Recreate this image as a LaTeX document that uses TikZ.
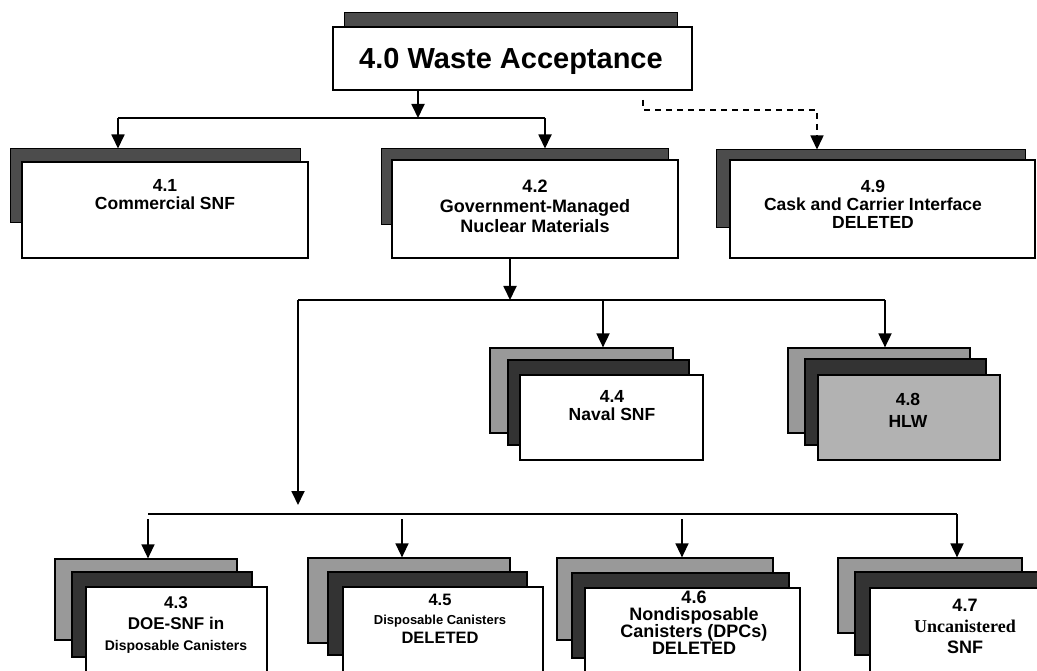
\documentclass[tikz,border=0pt]{standalone}
\usepackage{fontspec}
\setmainfont{Liberation Sans}
\newfontfamily\timesb{Liberation Serif}
\usetikzlibrary{arrows.meta}

\begin{document}
\begin{tikzpicture}[x=1pt,y=-1pt,
		shad/.style={draw,inner sep=0pt,line width=1pt,fill=black!70},
		back/.style={draw,inner sep=0pt,line width=1.2pt,fill=black!40},
		mid/.style={draw,inner sep=0pt,line width=1.2pt,fill=black!80},
		card/.style={draw,inner sep=0pt,line width=1.8pt,fill=white},
		lbl/.style={align=center,inner sep=0pt,font=\bfseries\fontsize{17.5}{18}\selectfont},
		conn/.style={line width=1.8pt},
		arr/.style={conn,-{Triangle[width=13pt,length=14pt]}}]
	\clip (0,0) rectangle (1037,671);
	\fill[white] (0,0) rectangle (1037,671);

	\node[shad,minimum width=333pt,minimum height=47pt] (s40) at (510.5,36.5) {};
	\node[card,line width=2.2pt,minimum width=359pt,minimum height=63pt] (b40) at (512.5,58.5) {};
	\node[lbl,font=\bfseries\fontsize{29}{32}\selectfont] (t40) at (511,61) {4.0 Waste Acceptance};

	\node[shad,minimum width=290pt,minimum height=74pt] (s41) at (155,186) {};
	\node[card,minimum width=286pt,minimum height=96pt] (b41) at (165,210) {};
	\node[lbl] (t41) at (165,195) {4.1\\Commercial SNF};

	\node[shad,minimum width=287pt,minimum height=76pt] (s42) at (524.5,187) {};
	\node[card,minimum width=286pt,minimum height=98pt] (b42) at (535,209) {};
	\node[lbl,font=\bfseries\fontsize{18}{20}\selectfont] (t42) at (535,206) {4.2\\Government-Managed\\Nuclear Materials};

	\node[shad,minimum width=309pt,minimum height=78pt] (s49) at (870.5,189) {};
	\node[card,minimum width=305pt,minimum height=98pt] (b49) at (882.5,209) {};
	\node[lbl] (t49) at (873,204) {4.9\\Cask and Carrier Interface\\DELETED};

	\node[back,minimum width=183pt,minimum height=85pt] (a44) at (581.5,390.5) {};
	\node[mid,minimum width=181pt,minimum height=85pt] (m44) at (598.5,402.5) {};
	\node[card,minimum width=183pt,minimum height=85pt] (b44) at (611.5,417.5) {};
	\node[lbl] (t44) at (612,406) {4.4\\Naval SNF};

	\node[back,minimum width=182pt,minimum height=85pt] (a48) at (879,390.5) {};
	\node[mid,minimum width=181pt,minimum height=86pt] (m48) at (895.5,402) {};
	\node[card,fill=black!30,minimum width=182pt,minimum height=85pt] (b48) at (909,417.5) {};
	\node[lbl] (t48) at (908,410) {4.8\\[4pt]HLW};

	\node[back,minimum width=182pt,minimum height=81pt] (a43) at (146,599.5) {};
	\node[mid,minimum width=180pt,minimum height=85pt] (m43) at (162,614.5) {};
	\node[card,minimum width=181pt,minimum height=100pt] (b43) at (176.5,637) {};
	\node[lbl,font=\bfseries\fontsize{17}{21}\selectfont] (t43) at (176,625) {4.3\\DOE-SNF in\\{\fontsize{14}{14}\selectfont Disposable Canisters}};

	\node[back,minimum width=202pt,minimum height=85pt] (a45) at (409,600.5) {};
	\node[mid,minimum width=199pt,minimum height=83pt] (m45) at (427.5,613.5) {};
	\node[card,minimum width=200pt,minimum height=100pt] (b45) at (443,637) {};
	\node[lbl,font=\bfseries\fontsize{16.5}{19}\selectfont] (t45) at (440,619) {4.5\\{\fontsize{13}{13}\selectfont Disposable Canisters}\\DELETED};

	\node[back,minimum width=216pt,minimum height=82pt] (a46) at (665,599) {};
	\node[mid,minimum width=217pt,minimum height=85pt] (m46) at (680.5,615.5) {};
	\node[card,minimum width=215pt,minimum height=100pt] (b46) at (692.5,638) {};
	\node[lbl,font=\bfseries\fontsize{18}{17}\selectfont] (t46) at (694,623) {4.6\\Nondisposable\\Canisters (DPCs)\\DELETED};

	\node[back,minimum width=184pt,minimum height=75pt] (a47) at (930,595.5) {};
	\node[mid,minimum width=195pt,minimum height=83pt] (m47) at (952.5,613.5) {};
	\node[card,minimum width=216pt,minimum height=100pt] (b47) at (978,638) {};
	\node[lbl,font=\bfseries\fontsize{18}{21}\selectfont] (t47) at (965,626) {4.7\\{\timesb Uncanistered}\\SNF};

	\coordinate (j0) at (418,118);
	\coordinate (j1) at (118,118);
	\coordinate (j2) at (545,118);
	\draw[arr] (b40.south -| j0) -- (j0);
	\draw[conn] (j1) -- (j2);
	\draw[arr] (j1) -- (j1 |- s41.north);
	\draw[arr] (j2) -- (j2 |- s42.north);
	\coordinate (d0) at (643,100);
	\coordinate (d1) at (817,110);
	\draw[arr,line width=1.5pt,dash pattern=on 6pt off 5pt] (d0) |- (d1) -- (d1 |- s49.north);

	\coordinate (k0) at (510,300);
	\coordinate (k1) at (298,300);
	\coordinate (k2) at (885,300);
	\coordinate (k3) at (603,300);
	\draw[arr] (b42.south -| k0) -- (k0);
	\draw[conn] (k1) -- (k2);
	\draw[arr] (k3) -- (k3 |- a44.north);
	\draw[arr] (k2) -- (k2 |- a48.north);

	\coordinate (m1) at (148,514);
	\coordinate (m2) at (957,514);
	\draw[arr,shorten >=9pt] (k1) -- (k1 |- m1);
	\draw[conn] (m1) -- (m2);
	\foreach \n/\x in {43/148,45/402,46/682} {
			\coordinate (p\n) at (\x,514);
			\draw[arr,line width=1.3pt,shorten <=5pt] (p\n) -- (p\n |- a\n.north);
		}
	\draw[arr] (m2) -- (m2 |- a47.north);
\end{tikzpicture}
\end{document}
